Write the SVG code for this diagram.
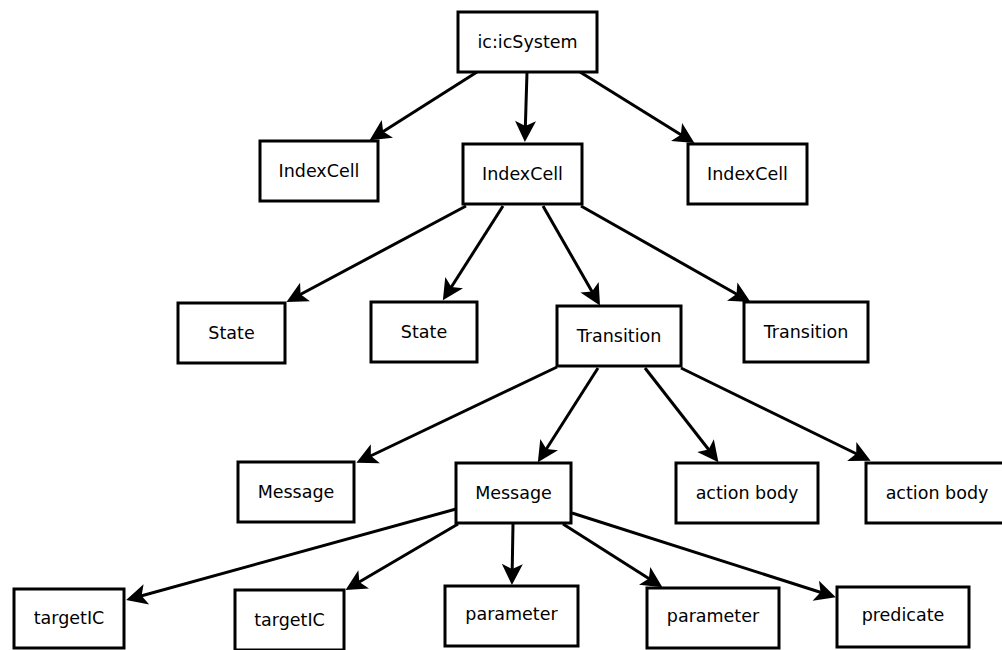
<svg xmlns="http://www.w3.org/2000/svg" width="1002" height="650" viewBox="0 0 1002 650">
<style>
.box{fill:#fff;stroke:#000;stroke-width:3}
.lbl{font-family:"DejaVu Sans",sans-serif;font-size:17.5px;fill:#000;text-anchor:middle}
.edge{stroke:#000;stroke-width:3;fill:none;marker-end:url(#arr)}
</style>
<defs>
<marker id="arr" markerUnits="userSpaceOnUse" viewBox="-19 -12 25 24" markerWidth="25" markerHeight="24" refX="0" refY="0" orient="auto">
<path d="M4,0 L-17,-10.5 L-12,0 L-17,10.5 Z" fill="#000"/>
</marker>
</defs>
<rect width="1002" height="650" fill="#fff"/>
<g id="connectors">
<line class="edge" x1="477" y1="72" x2="373" y2="138"/>
<line class="edge" x1="527" y1="72" x2="525" y2="138"/>
<line class="edge" x1="580" y1="72" x2="691" y2="141"/>
<line class="edge" x1="466" y1="206" x2="290" y2="300"/>
<line class="edge" x1="503" y1="206" x2="445" y2="297"/>
<line class="edge" x1="543" y1="206" x2="598" y2="302"/>
<line class="edge" x1="581" y1="206" x2="747" y2="300"/>
<line class="edge" x1="557" y1="367" x2="360" y2="461"/>
<line class="edge" x1="598" y1="368" x2="540" y2="459"/>
<line class="edge" x1="645" y1="368" x2="716" y2="459"/>
<line class="edge" x1="681" y1="368" x2="867" y2="459"/>
<line class="edge" x1="456" y1="509" x2="130" y2="599"/>
<line class="edge" x1="458" y1="524" x2="349" y2="588"/>
<line class="edge" x1="513" y1="524" x2="512" y2="581"/>
<line class="edge" x1="563" y1="524" x2="659" y2="585"/>
<line class="edge" x1="572" y1="513" x2="832" y2="596"/>
</g>
<g id="n-sys"><rect class="box" x="458" y="12" width="139" height="60"/><text class="lbl" x="527.5" y="48">ic:icSystem</text></g>
<g id="n-ic1"><rect class="box" x="260" y="141" width="118" height="60"/><text class="lbl" x="319" y="177">IndexCell</text></g>
<g id="n-ic2"><rect class="box" x="463" y="144" width="119" height="60"/><text class="lbl" x="522.5" y="180">IndexCell</text></g>
<g id="n-ic3"><rect class="box" x="688" y="144" width="119" height="60"/><text class="lbl" x="747.5" y="180">IndexCell</text></g>
<g id="n-st1"><rect class="box" x="178" y="303" width="107" height="60"/><text class="lbl" x="231.5" y="339">State</text></g>
<g id="n-st2"><rect class="box" x="371" y="302" width="106" height="60"/><text class="lbl" x="424" y="338">State</text></g>
<g id="n-tr1"><rect class="box" x="557" y="306" width="124" height="60"/><text class="lbl" x="619" y="342">Transition</text></g>
<g id="n-tr2"><rect class="box" x="744" y="302" width="124" height="60"/><text class="lbl" x="806" y="338">Transition</text></g>
<g id="n-msg1"><rect class="box" x="238" y="462" width="116" height="60"/><text class="lbl" x="296" y="498">Message</text></g>
<g id="n-msg2"><rect class="box" x="456" y="463" width="115" height="60"/><text class="lbl" x="513.5" y="499">Message</text></g>
<g id="n-ab1"><rect class="box" x="676" y="463" width="142" height="60"/><text class="lbl" x="747" y="499">action body</text></g>
<g id="n-ab2"><rect class="box" x="866" y="463" width="142" height="60"/><text class="lbl" x="937" y="499">action body</text></g>
<g id="n-tg1"><rect class="box" x="14" y="589" width="110" height="59"/><text class="lbl" x="69" y="624">targetIC</text></g>
<g id="n-tg2"><rect class="box" x="235" y="590" width="109" height="60"/><text class="lbl" x="289.5" y="626">targetIC</text></g>
<g id="n-par1"><rect class="box" x="445" y="586" width="133" height="60"/><text class="lbl" x="511.5" y="620">parameter</text></g>
<g id="n-par2"><rect class="box" x="647" y="588" width="132" height="60"/><text class="lbl" x="713" y="622">parameter</text></g>
<g id="n-pred"><rect class="box" x="837" y="587" width="132" height="60"/><text class="lbl" x="903" y="621">predicate</text></g>
</svg>
